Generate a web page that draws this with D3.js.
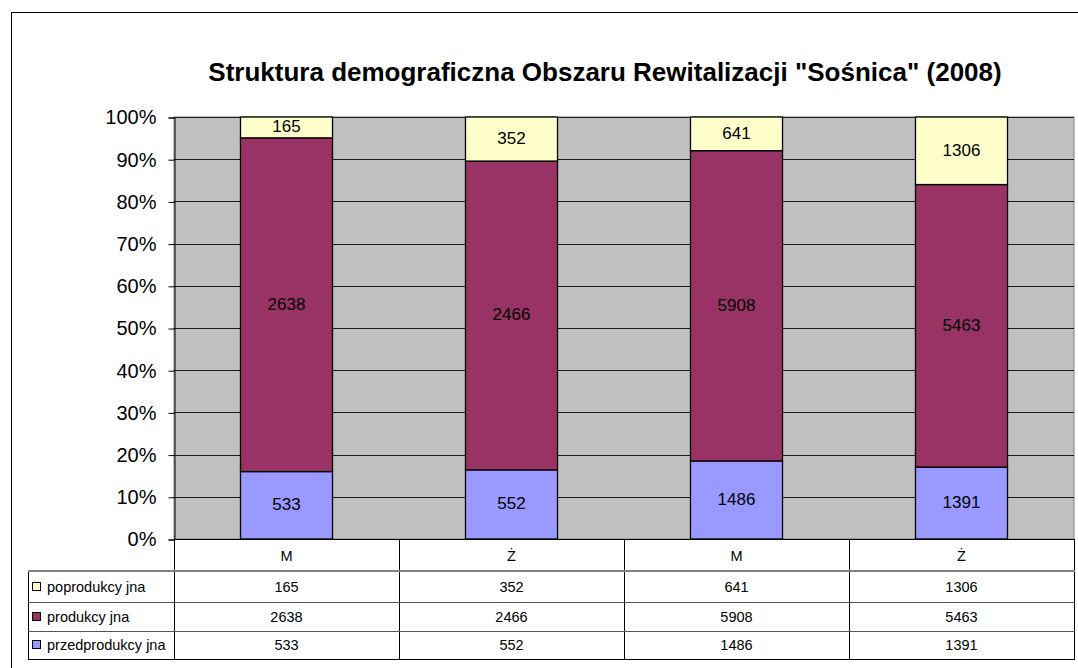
<!DOCTYPE html>
<html>
<head>
<meta charset="utf-8">
<script src="https://cdn.jsdelivr.net/npm/d3@7"></script>
<style>
  body { margin: 0; background: #fff; }
  svg { display: block; font-family: Arial, "Liberation Sans", sans-serif; }
</style>
</head>
<body>
<svg id="chart" width="1078" height="668"></svg>
<script>
// chart data
var categories = ["M", "Ż", "M", "Ż"];
var seriesNames = ["przedprodukcy jna", "produkcy jna", "poprodukcy jna"];
var przedprodukcyjna = [533, 552, 1486, 1391];
var produkcyjna = [2638, 2466, 5908, 5463];
var poprodukcyjna = [165, 352, 641, 1306];
var colors = ["#9999FF", "#993366", "#FFFFCC"];
var yTicks = [0, 0.1, 0.2, 0.3, 0.4, 0.5, 0.6, 0.7, 0.8, 0.9, 1];

var title = 'Struktura demograficzna Obszaru Rewitalizacji "Sośnica" (2008)';

var svg = d3.select("#chart");

// rows for the stack
var rows = categories.map(function(c, i) {
    return { i: i, cat: c, s0: przedprodukcyjna[i], s1: produkcyjna[i], s2: poprodukcyjna[i] };
});
var stack = d3.stack().keys(["s0", "s1", "s2"]).offset(d3.stackOffsetExpand);
var series = stack(rows);

var plot = { left: 174, right: 1074, top: 117, bottom: 539 };

var x = d3.scaleBand()
    .domain(d3.range(categories.length))
    .range([plot.left, plot.right])
    .paddingInner(0.591)
    .paddingOuter(0.2955);

var y = d3.scaleLinear().domain([0, 1]).range([plot.bottom, plot.top]);

// outer frame (runs off the right/bottom of the picture)
svg.append("rect")
    .attr("x", 11.5).attr("y", 12.5)
    .attr("width", 1100).attr("height", 700)
    .attr("fill", "none").attr("stroke", "#000").attr("stroke-width", 1);

// title
svg.append("text")
    .attr("x", 605).attr("y", 81)
    .attr("text-anchor", "middle")
    .attr("font-size", 26).attr("font-weight", "bold")
    .text(title);

// plot background
svg.append("rect")
    .attr("x", plot.left).attr("y", plot.top)
    .attr("width", plot.right - plot.left).attr("height", plot.bottom - plot.top)
    .attr("fill", "#C0C0C0").attr("stroke", "#808080");

// gridlines
svg.append("g").selectAll("line")
    .data(yTicks.slice(1))
    .enter().append("line")
    .attr("x1", plot.left).attr("x2", plot.right)
    .attr("y1", function(d) { return Math.round(y(d)) + 0.5; })
    .attr("y2", function(d) { return Math.round(y(d)) + 0.5; })
    .attr("stroke", "#1a1a1a");

// y axis
var yAxis = svg.append("g")
    .attr("transform", "translate(" + (plot.left + 0.5) + ",0.5)")
    .call(d3.axisLeft(y).tickValues(yTicks).tickFormat(d3.format(".0%")).tickSize(6).tickPadding(12));
yAxis.select(".domain").attr("stroke", "#000");
yAxis.selectAll(".tick line").attr("stroke", "#000");
yAxis.selectAll(".tick text")
    .attr("font-size", 20).attr("font-family", "Arial, 'Liberation Sans', sans-serif").attr("fill", "#000");

// bars
var layers = svg.append("g").selectAll("g")
    .data(series)
    .enter().append("g")
    .attr("fill", function(d, k) { return colors[k]; });

layers.selectAll("rect")
    .data(function(d) { return d; })
    .enter().append("rect")
    .attr("x", function(d) { return x(d.data.i); })
    .attr("y", function(d) { return y(d[1]); })
    .attr("width", x.bandwidth())
    .attr("height", function(d) { return y(d[0]) - y(d[1]); })
    .attr("stroke", "#000").attr("stroke-width", 1.3);

// data labels
var keys = ["s0", "s1", "s2"];
layers.each(function(s, k) {
    d3.select(this).selectAll("text")
        .data(s)
        .enter().append("text")
        .attr("x", function(d) { return x(d.data.i) + x.bandwidth() / 2; })
        .attr("y", function(d) { return (y(d[0]) + y(d[1])) / 2 - 1; })
        .attr("dy", "0.35em")
        .attr("text-anchor", "middle")
        .attr("font-size", 17)
        .attr("fill", "#000")
        .text(function(d) { return d.data[keys[k]]; });
});

// data table
var tableLeft = 28;
var rowY = [539, 571, 602, 631, 659];
var tbl = svg.append("g").attr("font-size", 14.5);

// header row (category labels)
tbl.selectAll(".cat")
    .data(categories)
    .enter().append("text")
    .attr("class", "cat")
    .attr("x", function(d, i) { return x(i) + x.bandwidth() / 2; })
    .attr("y", (rowY[0] + rowY[1]) / 2 + 1)
    .attr("dy", "0.35em")
    .attr("text-anchor", "middle")
    .text(function(d) { return d; });

// table rows: top to bottom = poprodukcyjna, produkcyjna, przedprodukcyjna
var tableRows = [
    { name: seriesNames[2], color: colors[2], values: poprodukcyjna },
    { name: seriesNames[1], color: colors[1], values: produkcyjna },
    { name: seriesNames[0], color: colors[0], values: przedprodukcyjna }
];

tableRows.forEach(function(r, j) {
    var cy = (rowY[j + 1] + rowY[j + 2]) / 2;
    tbl.append("rect")
        .attr("x", 32.5).attr("y", Math.round(cy) - 4.5)
        .attr("width", 8).attr("height", 8)
        .attr("fill", r.color).attr("stroke", "#000");
    tbl.append("text")
        .attr("x", 47).attr("y", cy).attr("dy", "0.35em")
        .text(r.name);
    tbl.selectAll(".v" + j)
        .data(r.values)
        .enter().append("text")
        .attr("x", function(d, i) { return x(i) + x.bandwidth() / 2; })
        .attr("y", cy).attr("dy", "0.35em")
        .attr("text-anchor", "middle")
        .text(function(d) { return d; });
});

// table lines
var step = x.step();
var vLines = d3.range(categories.length + 1).map(function(i) { return plot.left + i * step; });
tbl.selectAll(".vl")
    .data(vLines)
    .enter().append("line")
    .attr("x1", function(d) { return Math.round(d) + 0.5; })
    .attr("x2", function(d) { return Math.round(d) + 0.5; })
    .attr("y1", rowY[0]).attr("y2", rowY[4])
    .attr("stroke", "#000");
tbl.append("line")
    .attr("x1", tableLeft + 0.5).attr("x2", tableLeft + 0.5)
    .attr("y1", rowY[1]).attr("y2", rowY[4]).attr("stroke", "#000");
tbl.append("line")
    .attr("x1", tableLeft).attr("x2", plot.right + 1)
    .attr("y1", rowY[1]).attr("y2", rowY[1])
    .attr("stroke", "#808080").attr("stroke-width", 2);
[rowY[2], rowY[3]].forEach(function(yy) {
    tbl.append("line")
        .attr("x1", tableLeft).attr("x2", plot.right + 1)
        .attr("y1", yy + 0.5).attr("y2", yy + 0.5)
        .attr("stroke", "#555");
});
tbl.append("line")
    .attr("x1", tableLeft).attr("x2", plot.right + 1)
    .attr("y1", rowY[4] + 0.5).attr("y2", rowY[4] + 0.5)
    .attr("stroke", "#000");
tbl.append("line")
    .attr("x1", plot.left).attr("x2", plot.right + 1)
    .attr("y1", rowY[0] + 0.5).attr("y2", rowY[0] + 0.5)
    .attr("stroke", "#000");
</script>
</body>
</html>
